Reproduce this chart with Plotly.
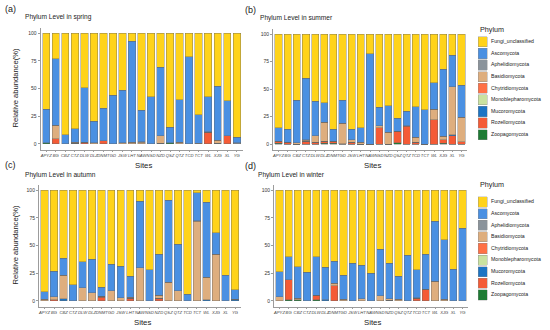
import plotly.graph_objects as go

SITES = ["APYZ", "BG", "CBZ", "CTZ", "DLW", "DLZ", "DNMT", "GD", "JSW", "LHT", "NAW",
         "NSD", "NZD", "QSZ", "QTZ", "TCD", "TCT", "WL", "XJG", "XL", "YG"]

PHYLA = ["Fungi_unclassified", "Ascomycota", "Aphelidiomycota", "Basidiomycota",
         "Chytridiomycota", "Monoblepharomycota", "Mucoromycota", "Rozellomycota",
         "Zoopagomycota"]

COLORS = {
    "Fungi_unclassified": "#FFD31A",
    "Ascomycota": "#4A90E2",
    "Aphelidiomycota": "#8A939B",
    "Basidiomycota": "#DEAE7E",
    "Chytridiomycota": "#FF7146",
    "Monoblepharomycota": "#C9E2A0",
    "Mucoromycota": "#1C74C4",
    "Rozellomycota": "#F45B36",
    "Zoopagomycota": "#1E7B34",
}

# ---------------- spring ----------------
SPRING_FUNGI = [68.5, 23, 91.6, 86.5, 49.5, 79.7, 68, 56, 51.5, 7.5, 69.5, 57.3, 31, 85, 60, 21.5, 73.5, 57.3, 48, 61, 94]
SPRING_ASCO = [30.5, 60, 8.4, 12, 49, 19, 29, 44, 47.5, 91, 28.5, 42.7, 61.5, 14, 38.5, 78.5, 26, 31.5, 48.5, 31.5, 5]
SPRING_APHEL = [0, 0.5, 0, 0, 0, 0, 0, 0, 0, 0, 0.5, 0, 0, 0, 0, 0, 0.5, 0, 0, 0, 1]
SPRING_BASID = [0, 12, 0, 1, 0, 1.3, 0, 0, 1, 1.5, 1.5, 0, 7, 0, 1.5, 0, 0, 0.8, 3, 0, 0]
SPRING_CHYTR = [0, 0, 0, 0, 0, 0, 0, 0, 0, 0, 0, 0, 0, 0, 0, 0, 0, 0, 0, 0, 0]
SPRING_MONOB = [0, 0, 0, 0, 0, 0, 0, 0, 0, 0, 0, 0, 0, 0, 0, 0, 0, 0, 0, 0, 0]
SPRING_MUCOR = [0, 0, 0, 0, 0, 0, 0, 0, 0, 0, 0, 0, 0.5, 0, 0, 0, 0, 0, 0.5, 0, 0]
SPRING_ROZEL = [0, 4.5, 0, 0, 1.5, 0, 3, 0, 0, 0, 0, 0, 0, 0, 0, 0, 0, 10.4, 0, 7.5, 0]
SPRING_ZOOPA = [1, 0, 0, 0.5, 0, 0, 0, 0, 0, 0, 0, 0, 0, 1, 0, 0, 0, 0, 0, 0, 0]

# ---------------- summer ----------------
SUMMER_FUNGI = [85, 86.5, 60, 40, 61, 62.3, 86.4, 60, 86.4, 85, 18, 66.5, 65, 76.4, 70.3, 66, 69, 44.5, 32, 19.4, 46.7]
SUMMER_ASCO = [12.5, 12, 39, 56, 31.5, 18, 11, 21, 9.6, 13.5, 82, 17, 24.5, 12, 13, 28, 31, 23.7, 61, 28.6, 28.8]
SUMMER_APHEL = [0, 0, 0, 0.5, 0, 0, 0, 0, 0, 0, 0, 0, 0, 0, 0, 0, 0, 0, 0, 0, 0]
SUMMER_BASID = [0, 0, 1, 1, 6, 17, 0, 18.7, 2.5, 1.5, 0, 1.5, 10.5, 0, 0, 4.5, 0, 9.8, 3, 43.7, 22.5]
SUMMER_CHYTR = [0, 0, 0, 0, 0, 0, 0, 0, 0, 0, 0, 0, 0, 0, 0, 0, 0, 0, 0, 0, 0]
SUMMER_MONOB = [0, 0, 0, 0, 0, 0, 0, 0, 0, 0, 0, 0, 0, 0, 0, 0, 0, 0, 0, 0, 0]
SUMMER_MUCOR = [0, 0, 0, 0, 0, 0, 0, 0, 0, 0, 0, 0, 0, 0, 0.7, 0, 0, 0, 0, 0.8, 0]
SUMMER_ROZEL = [2, 1.5, 0, 2.5, 1.5, 2, 2, 0.3, 1.5, 0, 0, 15, 0, 10.6, 16, 1.5, 0, 22, 3.5, 7.5, 2]
SUMMER_ZOOPA = [0.5, 0, 0, 0, 0, 0.7, 0.6, 0, 0, 0, 0, 0, 0, 1, 0, 0, 0, 0, 0.5, 0, 0]

# ---------------- autumn ----------------
AUTUMN_FUNGI = [91.6, 73, 61.6, 85.6, 64.6, 62.5, 87.7, 66.7, 68.5, 77.5, 10, 72, 58, 9.2, 48.7, 94, 2.5, 11, 38.4, 76.6, 90]
AUTUMN_ASCO = [7, 23, 15, 14.4, 23.4, 30, 8, 24.3, 28.5, 19.2, 60, 28, 37, 74, 42, 6, 25, 67.7, 19.3, 23.4, 8.5]
AUTUMN_APHEL = [0, 0, 0, 0, 0, 0, 0, 0, 0, 0, 0, 0, 0, 0, 0, 0, 0.5, 0, 0, 0, 0]
AUTUMN_BASID = [1, 3, 21.4, 0, 12, 7.5, 0, 9, 3, 0.8, 30, 0, 2.5, 16.8, 9.3, 0, 72, 20.3, 42.3, 0, 0]
AUTUMN_CHYTR = [0, 0, 0, 0, 0, 0, 0, 0, 0, 0, 0, 0, 0, 0, 0, 0, 0, 0, 0, 0, 0]
AUTUMN_MONOB = [0, 0, 0, 0, 0, 0, 0, 0, 0, 0, 0, 0, 0, 0, 0, 0, 0, 0, 0, 0, 0]
AUTUMN_MUCOR = [0.4, 0, 2, 0, 0, 0, 1, 0, 0, 0, 0, 0, 0.5, 0, 0, 0, 0, 1, 0, 0, 1.5]
AUTUMN_ROZEL = [0, 1, 0, 0, 0, 0, 3.3, 0, 0, 2.5, 0, 0, 2, 0, 0, 0, 0, 0, 0, 0, 0]
AUTUMN_ZOOPA = [0, 0, 0, 0, 0, 0, 0, 0, 0, 0, 0, 0, 0, 0, 0, 0, 0, 0, 0, 0, 0]

# ---------------- winter ----------------
WINTER_FUNGI = [73.6, 60, 69, 74, 60, 69.7, 64, 76.6, 66, 68, 75, 53.2, 66, 77.5, 58.6, 72, 57.7, 28.1, 45, 71.5, 34.5]
WINTER_ASCO = [22.8, 21, 28.5, 26, 35, 29.3, 20, 22, 34, 30, 25, 42.3, 32, 21, 41.4, 25, 31.8, 54, 53.5, 28.5, 65.5]
WINTER_APHEL = [0, 0, 0, 0, 0, 0, 0, 0, 0, 0, 0, 0, 0, 0, 0, 0.5, 0, 0.5, 0, 0, 0]
WINTER_BASID = [3.6, 0, 1.3, 0, 0, 0, 2.5, 1.4, 0, 2, 0, 4.5, 1.5, 1.5, 0, 0, 0, 17.4, 1.5, 0, 0]
WINTER_CHYTR = [0, 0, 0, 0, 0, 0, 0, 0, 0, 0, 0, 0, 0, 0, 0, 0, 0, 0, 0, 0, 0]
WINTER_MONOB = [0, 0, 0, 0, 0, 0, 0, 0, 0, 0, 0, 0, 0, 0, 0, 0, 0, 0, 0, 0, 0]
WINTER_MUCOR = [0, 0, 0, 0, 0, 1, 0, 0, 0, 0, 0, 0, 0, 0, 0, 0, 0, 0, 0, 0, 0]
WINTER_ROZEL = [0, 18, 0, 0, 3.8, 0, 13.5, 0, 0, 0, 0, 0, 0, 0, 0, 2.5, 10.5, 0, 0, 0, 0]
WINTER_ZOOPA = [0, 1, 1.2, 0, 1.2, 0, 0, 0, 0, 0, 0, 0, 0.5, 0, 0, 0, 0, 0, 0, 0, 0]

SEASON_NAMES = ["spring", "summer", "autumn", "winter"]
PANEL_LABELS = ["(a)", "(b)", "(c)", "(d)"]
Y_TICKS = [0, 25, 50, 75, 100]

SEASONS = [
    [SPRING_FUNGI, SPRING_ASCO, SPRING_APHEL, SPRING_BASID, SPRING_CHYTR, SPRING_MONOB, SPRING_MUCOR, SPRING_ROZEL, SPRING_ZOOPA],
    [SUMMER_FUNGI, SUMMER_ASCO, SUMMER_APHEL, SUMMER_BASID, SUMMER_CHYTR, SUMMER_MONOB, SUMMER_MUCOR, SUMMER_ROZEL, SUMMER_ZOOPA],
    [AUTUMN_FUNGI, AUTUMN_ASCO, AUTUMN_APHEL, AUTUMN_BASID, AUTUMN_CHYTR, AUTUMN_MONOB, AUTUMN_MUCOR, AUTUMN_ROZEL, AUTUMN_ZOOPA],
    [WINTER_FUNGI, WINTER_ASCO, WINTER_APHEL, WINTER_BASID, WINTER_CHYTR, WINTER_MONOB, WINTER_MUCOR, WINTER_ROZEL, WINTER_ZOOPA],
]

W, H = 550, 330
FONT = "Liberation Sans"


def px_x(v):
    return v / W


def px_y(v):
    return 1 - v / H


# panel geometry in pixels: (left, right, top, bottom)
PANELS = [
    (40.5, 242.5, 27.5, 149.5),
    (273.0, 467.0, 28.5, 149.5),
    (38.8, 240.8, 184.5, 306.5),
    (274.0, 468.0, 184.5, 306.5),
]

fig = go.Figure()
layout = dict(
    width=W, height=H, margin=dict(l=0, r=0, t=0, b=0, autoexpand=False),
    paper_bgcolor="white", plot_bgcolor="white",
    barmode="stack", bargap=0.22, showlegend=False,
    font=dict(family=FONT, color="#222"),
)

AX = "#9c9c9c"
for i, season in enumerate(SEASONS):
    n = "" if i == 0 else str(i + 1)
    l, r, t, b = PANELS[i]
    # stack from bottom: reverse legend order
    for j in range(len(PHYLA) - 1, -1, -1):
        ph = PHYLA[j]
        fig.add_trace(go.Bar(
            x=SITES, y=season[j], name=ph,
            marker=dict(color=COLORS[ph], line=dict(color="#666666", width=0.4)),
            width=0.78, xaxis="x" + n, yaxis="y" + n, showlegend=False,
        ))
    layout["xaxis" + n] = dict(
        domain=[px_x(l), px_x(r)], anchor="y" + n, type="category",
        categoryorder="array", categoryarray=SITES, range=[-0.6, 20.6],
        showline=True, linecolor=AX, linewidth=0.7, ticks="outside", ticklen=2,
        tickcolor=AX, tickwidth=0.6, showgrid=False, zeroline=False, tickangle=0,
        tickmode="array", tickvals=SITES, ticktext=["<i>%s</i>" % s for s in SITES],
        tickfont=dict(size=4.2, color="#444", family=FONT), automargin=False,
    )
    layout["yaxis" + n] = dict(
        domain=[px_y(b), px_y(t)], anchor="x" + n, range=[-5, 105],
        tickvals=Y_TICKS, showline=True, linecolor=AX, linewidth=0.7,
        ticks="outside", ticklen=2, tickcolor=AX, tickwidth=0.6,
        showgrid=False, zeroline=False, automargin=False,
        tickfont=dict(size=5, color="#333", family=FONT),
    )

# custom legends (right side), drawn as traces on hidden axes
LEG = [(36.0, 140.5, 29.0, "5"), (196.2, 300.8, 185.0, "6")]
for top, bot, ttl_y, n in LEG:
    fig.add_trace(go.Bar(
        y=PHYLA, x=[9] * len(PHYLA), base=[8] * len(PHYLA), orientation="h",
        marker=dict(color=[COLORS[p] for p in PHYLA], line=dict(color="#8a8a8a", width=0.4)),
        width=0.88, xaxis="x" + n, yaxis="y" + n, showlegend=False, hoverinfo="skip",
    ))
    fig.add_trace(go.Scatter(
        y=PHYLA, x=[21] * len(PHYLA), text=PHYLA, mode="text",
        textposition="middle right", textfont=dict(size=5.2, color="#222", family=FONT),
        xaxis="x" + n, yaxis="y" + n, showlegend=False, hoverinfo="skip",
    ))
    layout["xaxis" + n] = dict(domain=[px_x(470), 1], range=[0, 80], visible=False,
                               anchor="y" + n, fixedrange=True)
    layout["yaxis" + n] = dict(domain=[px_y(bot), px_y(top)], type="category",
                               categoryorder="array", categoryarray=PHYLA,
                               range=[len(PHYLA) - 0.5, -0.5], visible=False,
                               anchor="x" + n, fixedrange=True)

ann = []
# legend titles
for _, _, ttl_y, _ in LEG:
    ann.append(dict(text="Phylum", x=px_x(478), y=px_y(ttl_y), xref="paper", yref="paper",
                    xanchor="left", yanchor="middle", showarrow=False,
                    font=dict(size=7.2, color="#222", family=FONT)))

TITLE_POS = [(23, 17), (258, 18), (23, 175), (256, 175)]
LABEL_POS = [(3, 9), (243, 10), (3, 165), (243, 166)]
SITES_POS = [(143, 165), (372, 165), (142, 322), (372, 322)]
for i in range(4):
    ann.append(dict(text="Phylum Level in " + SEASON_NAMES[i], x=px_x(TITLE_POS[i][0]),
                    y=px_y(TITLE_POS[i][1]), xref="paper", yref="paper",
                    xanchor="left", yanchor="middle", showarrow=False,
                    font=dict(size=6.6, color="#222", family=FONT)))
    ann.append(dict(text=PANEL_LABELS[i], x=px_x(LABEL_POS[i][0]), y=px_y(LABEL_POS[i][1]),
                    xref="paper", yref="paper", xanchor="left", yanchor="middle",
                    showarrow=False, font=dict(size=9, color="#222", family=FONT)))
    ann.append(dict(text="Sites", x=px_x(SITES_POS[i][0]), y=px_y(SITES_POS[i][1]),
                    xref="paper", yref="paper", xanchor="center", yanchor="middle",
                    showarrow=False, font=dict(size=7.8, color="#222", family=FONT)))

for yc in (88.5, 245.5):
    ann.append(dict(text="Relative abundance(%)", x=px_x(15), y=px_y(yc), xref="paper",
                    yref="paper", xanchor="center", yanchor="middle", textangle=-90,
                    showarrow=False, font=dict(size=7.6, color="#222", family=FONT)))

layout["annotations"] = ann
fig.update_layout(**layout)
fig.write_html("out.html", config={"displayModeBar": False},
               post_script="document.body.style.margin='0';document.body.style.overflow='hidden';")
